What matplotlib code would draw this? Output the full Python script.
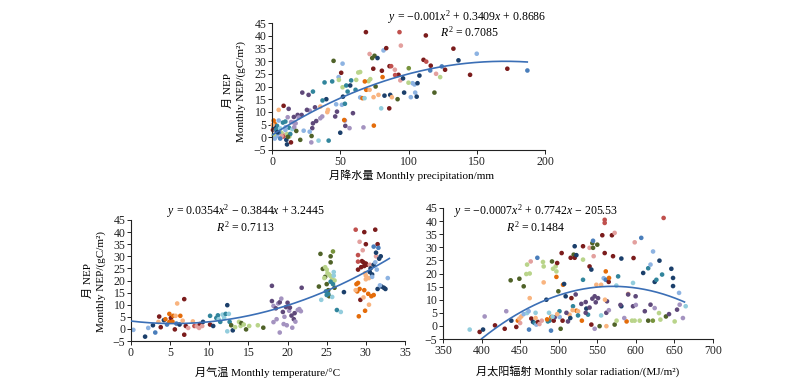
import matplotlib
matplotlib.use("Agg")
import matplotlib.pyplot as plt
import numpy as np

plt.rcParams['font.family'] = ['Liberation Serif', 'Noto Sans CJK SC', 'DejaVu Sans']
plt.rcParams['mathtext.fontset'] = 'custom'
plt.rcParams['mathtext.rm'] = 'Liberation Serif'
plt.rcParams['mathtext.it'] = 'Liberation Serif:italic'
plt.rcParams['axes.unicode_minus'] = True

# colour codes
palette = {
    'nv': '#1B3F6B', 'bl': '#4A7EBB', 'lb': '#8DB3E2',
    'dr': '#7B1C1C', 'rd': '#C0504D', 'pk': '#E3A09E',
    'or': '#E46C0A', 'lo': '#F9B47F',
    'dg': '#4F6228', 'gr': '#77933C', 'lg': '#B9D48A',
    'pu': '#5F497A', 'lp': '#A493C0',
    'te': '#31859C', 'lt': '#93CDDD',
}

# ---------------- Panel 1: precipitation ----------------
prec_x = [68.8, 93.4, 112.7, 81.7, 71.5, 75.1, 77.3, 73.4, 94.4, 83.7, 132.9, 150, 45.1, 51.7, 136.6, 111, 113,
          116.3, 124.4, 86.1, 87.3, 100.2, 90, 80.5, 74.2, 64.6, 63.2, 50.7, 126.8, 115.9, 172.4, 187.1, 145.1,
          123.2, 120.2, 108, 92.7, 94, 96, 90.2, 81, 70.7, 72, 75.9, 48.8, 49, 38.5, 44.1, 22.2, 30, 26.8, 51.7,
          54.4, 58, 55.4, 57.3, 61.7, 68, 69, 71.5, 61.2, 64.6, 66.3, 67.8, 74.4, 78, 82.4, 86.6, 87.8, 92, 96.8,
          103, 104.4, 101.7, 104.9, 106, 106.6, 119, 100, 80, 85.9, 74.6, 67, 56.8, 53.7, 53.4, 52.9, 50, 47.6,
          46.3, 47, 51.2, 53.4, 52, 39.8, 37, 35.4, 40.5, 41, 59.3, 36.8, 35.4, 32.4, 31.5, 27.6, 25.6, 30, 29.5,
          21.7, 18.8, 19.5, 27.6, 29, 28.8, 34.1, 41.5, 20.7, 23.2, 12.4, 11.5, 12.2, 8.5, 4.9, 4.9, 1.2, 2, 3.7,
          8, 9.8, 1.2, 0.7, 5.6, 7.6, 9, 8.3, 6.8, 11, 12.7, 9.8, 2.7, 3.7, 10.5, 11, 13.9, 13.4, 14.9, 16.3,
          15.9, 17.3, 17.8, 1.2, 0.5, 5.1, 3, 6, 7, 10, 4, 14, 16, 2, 6, 11.7]
prec_y = [41.4, 41.4, 40.1, 34.2, 32.8, 32.1, 31.2, 31.2, 36.1, 35.1, 34.9, 32.9, 30.1, 29.0, 30.3, 30.5, 29.8,
          28.2, 27.9, 28, 28, 27.2, 26.6, 26.2, 27, 25.7, 25.5, 25.4, 26.6, 26.3, 27, 26.3, 24.6, 23.7, 25, 24.3,
          24.6, 22.4, 23.2, 24.5, 23.7, 22.1, 22.9, 20, 23.7, 22.6, 21.6, 22, 17.6, 18, 16.7, 19.7, 20.4, 22.4,
          18, 20.4, 22.6, 22, 18.7, 18.7, 18.7, 15.7, 15.4, 15.4, 15.8, 16.7, 16.4, 16.7, 15.8, 15, 17.6, 21.3,
          20.8, 15.8, 17.6, 16, 21.3, 17.6, 21.5, 11.4, 11.4, 4.6, 3.9, 3.6, 4.5, 6.6, 6.8, 1.8, 10.1, 8.2, 13,
          12.8, 13.2, 16, 15, 14.5, 12.1, 9.9, 10.8, 9.5, 8.2, 7.5, 6.4, 11.8, 10.5, 10.8, 5.5, 3.6, 8.8, 8.8,
          7.8, 2.2, 0.5, -2, -1.3, -1.3, -1, 2.6, 3.8, 7.9, 11.2, 12.4, 10.8, 6.6, 6.6, 5.3, 4.5, 5.8, 6.2, 4.2,
          2.9, 2.2, 1.2, 0.9, 0.3, 1.8, 1.3, 0.3, 2.9, 2.5, 0.5, -1, -2.8, -2, 1.3, 3.2, 4, 5.8, 5.5, 2.5, 0.9,
          4.9, 1.8, 3, 3.5, 0.5, 4, 2, 6, 8, -0.5, -0.5, 0.2]
prec_c = ['dr', 'rd', 'dr', 'lb', 'pk', 'dg', 'nv', 'dg', 'pk', 'dr', 'dr', 'lb', 'dg', 'lb', 'nv', 'dr', 'rd',
          'dr', 'bl', 'dr', 'rd', 'gr', 'pk', 'dr', 'dr', 'lg', 'lg', 'dr', 'dr', 'bl', 'dr', 'bl', 'dr', 'lg',
          'pk', 'nv', 'dr', 'pk', 'nv', 'rd', 'or', 'lg', 'lg', 'dg', 'lb', 'lg', 'te', 'te', 'pu', 'te', 'pu',
          'lg', 'te', 'te', 'te', 'nv', 'lg', 'or', 'or', 'lo', 'te', 'lb', 'or', 'lt', 'lo', 'lo', 'nv', 'nv',
          'lo', 'dg', 'nv', 'lb', 'lb', 'lb', 'lb', 'nv', 'nv', 'dg', 'lg', 'lt', 'dr', 'or', 'lp', 'lp', 'pu',
          'lp', 'or', 'nv', 'pu', 'pu', 'lb', 'lb', 'te', 'nv', 'nv', 'te', 'lo', 'lo', 'lo', 'pu', 'lp', 'lp',
          'pu', 'pu', 'lp', 'pu', 'pu', 'pu', 'pu', 'pu', 'lp', 'lb', 'dg', 'lp', 'lt', 'te', 'dg', 'lb', 'te',
          'lp', 'pu', 'dr', 'lo', 'lb', 'or', 'or', 'te', 'te', 'te', 'nv', 'dr', 'lg', 'pk', 'pk', 'rd', 'lg',
          'lg', 'lg', 'lb', 'lp', 'lb', 'nv', 'nv', 'dr', 'te', 'lt', 'lp', 'lp', 'lp', 'dg', 'lg', 'lo', 'bl',
          'te', 'lt', 'pk', 'lb', 'nv', 'lp', 'pu', 'lb', 'bl', 'dg']

# ---------------- Panel 2: temperature ----------------
temp_x = [0.3, 1.8, 2.2, 2.8, 3.1, 3.5, 3.6, 3.8, 4.2, 4.4, 4.6, 4.9, 4.9, 5.1, 5.3, 5.4, 5.7, 5.9, 5.8, 5.6,
          6.2, 6.3, 6.6, 6.8, 6.8, 7.0, 7.3, 7.9, 8.1, 8.4, 8.8, 9.1, 9.2, 8.7, 10.1, 10.1, 10.5, 10.9, 11.1,
          11.2, 11.4, 11.7, 11.9, 12.1, 12.3, 12.5, 12.6, 12.3, 13.0, 12.8, 13.3, 13.8, 14.0, 14.1, 14.4, 14.7,
          15.1, 16.2, 16.9,
          18.0, 18.0, 18.2, 18.5, 18.8, 19.0, 19.2, 19.0, 18.2, 18.6, 19.4, 19.6, 19.8, 20.0, 20.2, 19.5, 20.5,
          20.8, 21.0, 20.9, 21.3, 21.5, 21.8, 21.7, 20.3, 19.9, 20.6,
          24.2, 24.0, 24.5, 25.0, 25.3, 25.5, 25.8, 25.5, 26.0, 24.8, 25.2,
          24.8, 25.0, 25.3, 25.5, 25.7, 26.0, 24.7, 25.1,
          25.5, 25.8, 24.9, 25.2, 25.7, 26.3, 27.2, 26.8, 24.3, 25.0, 25.9, 25.9,
          28.7, 29.8, 31.2, 29.2, 29.6, 29.0, 30.0, 31.5, 29.5, 29.7, 30.0, 29.8, 30.1, 29.4, 29.0, 29.0, 30.5,
          31.3, 29.3,
          28.8, 29.0, 29.2, 28.9, 29.1, 29.8, 30.3, 30.7, 31.0, 29.9,
          28.7, 30.0, 30.4, 30.4, 30.0, 29.7, 29.9,
          30.5, 30.8, 31.0, 31.3, 31.5, 32.0, 32.3, 32.5, 31.7, 31.9, 30.6,
          31.0, 31.6, 31.2, 32.8, 31.8, 31.4, 30.8]
temp_y = [-0.4, -3.2, 0.4, 1.5, -1.5, 2.9, 5.1, 0.7, 3.6, 4.0, 1.8, 2.9, 6.2, 4.5, 3.0, 5.4, 5.4, 10.5, 2.2, -0.2,
          1.8, 5.4, 3.4, 12.3, -2.4, 1.2, 0.4, 3.1, 1.2, 1.1, 2.0, 1.2, 2.9, 0.4, 1.8, 5.4, 1.2, 4.5, 5.6, 4.0,
          2.9, 5.9, 4.5, 6.2, 9.8, 6.2, 2.9, -1.0, -0.6, 1.5, 0.7, 2.9, 1.2, 2.4, 1.8, -0.2, 1.2, 1.5, 0.5,
          17.8, 11.5, 9.5, 8.5, 10.5, 11.0, 12.5, -1.5, 2.8, 4.0, 7.0, 5.0, 9.0, 10.8, 7.5, 2.0, 5.5, 4.0, 3.0,
          6.5, 7.8, 8.2, 17.0, 7.3, 8.8, 1.5, 0.5,
          31.0, 17.5, 24.8, 18.5, 13.5, 27.5, 32.0, 30.0, 17.0, 21.5, 16.0,
          25.5, 24.5, 22.5, 21.8, 20.5, 20.0, 21.0, 23.0,
          19.5, 18.5, 15.5, 14.5, 13.2, 7.8, 15.2, 7.0, 12.0, 14.0, 23.5, 22.0,
          41.0, 40.0, 41.0, 36.0, 32.5, 30.5, 35.0, 35.0, 28.0, 27.5, 27.0, 26.0, 26.5, 25.5, 24.5, 27.8, 26.5,
          30.0, 12.0,
          18.5, 19.0, 16.5, 15.5, 5.2, 16.0, 14.5, 13.5, 14.0, 7.5,
          16.0, 22.0, 21.0, 10.0, 20.5, 13.0, 23.0,
          23.5, 22.5, 26.5, 31.5, 16.5, 17.5, 17.0, 16.5, 29.0, 30.0, 25.0,
          34.0, 33.5, 27.5, 21.0, 18.0, 24.5, 21.5]
temp_c = ['lb', 'nv', 'lb', 'nv', 'bl', 'lo', 'dr', 'dr', 'nv', 'or', 'bl', 'or', 'or', 'dr', 'or', 'or', 'lo',
          'lo', 'bl', 'dr', 'nv', 'or', 'lo', 'dr', 'dr', 'dr', 'pk', 'lo', 'rd', 'pk', 'dr', 'pk', 'nv', 'pk',
          'dr', 'te', 'nv', 'te', 'te', 'lt', 'te', 'lt', 'lt', 'te', 'nv', 'lt', 'te', 'lt', 'nv', 'dg', 'lg',
          'lg', 'lg', 'dg', 'lg', 'dg', 'lg', 'lg', 'dg',
          'pu', 'pu', 'lp', 'pu', 'lp', 'pu', 'lp', 'lp', 'lp', 'lp', 'pu', 'lp', 'pu', 'pu', 'lp', 'lp', 'pu',
          'pu', 'lp', 'pu', 'lp', 'lp', 'pu', 'lp', 'pu', 'lp', 'lp',
          'dg', 'dg', 'dg', 'dg', 'dg', 'dg', 'gr', 'dg', 'dg', 'dg', 'dg',
          'lg', 'lg', 'lg', 'lg', 'lg', 'lg', 'lg', 'lg',
          'te', 'te', 'te', 'te', 'lt', 'te', 'nv', 'lt', 'lt', 'te', 'lt', 'lt',
          'rd', 'dr', 'dr', 'pk', 'pk', 'rd', 'dr', 'dr', 'dr', 'dr', 'dr', 'dr', 'dr', 'dr', 'dr', 'rd', 'pk',
          'pk', 'dr',
          'or', 'or', 'or', 'or', 'or', 'or', 'or', 'or', 'or', 'or',
          'lo', 'lo', 'lo', 'lo', 'lo', 'lo', 'lo',
          'nv', 'nv', 'nv', 'nv', 'nv', 'nv', 'nv', 'nv', 'nv', 'nv', 'nv',
          'bl', 'bl', 'lb', 'lb', 'lb', 'lb', 'lb']

# ---------------- Panel 3: solar radiation ----------------
rad_x = [384.6, 397.5, 401.9, 404, 417.4, 430, 432, 438.6, 437.7, 445, 447, 449, 450, 451.5, 454.6, 459, 461,
         449, 454.6, 458, 459, 463.7, 462.4, 462.4, 472.3, 461.5, 464.5, 466.7, 468.8, 471, 473, 475, 479.6,
         480.5, 480.5, 484, 486, 487.4, 488, 490, 490.4, 493.5, 494.8, 491.3, 492.6, 496, 497, 498, 497, 499.5,
         501.2, 501, 502.5, 503.8, 505.6, 507, 509, 512, 514, 516.5, 515.5, 519.4, 520.7, 520.7, 522.9, 522,
         518.5, 523, 525, 529.3, 531.5, 531.5, 531.5, 535, 535.8, 538, 540, 540, 542.3, 542.3, 543.6, 543.6,
         544.5, 544.5, 545.3, 546.6, 546.6, 548.8, 550, 551, 553, 555, 556.5, 558.3, 559.6, 559.6, 559.6, 561,
         561, 561.7, 562.6, 564.8, 565.2, 569, 570.4, 572.5, 572.5, 574.7, 577, 581.2, 581.2, 590, 596.3, 597,
         598.5, 596.3, 599.7, 607, 609.5, 611.6, 616, 616, 619, 622.3, 624.4, 626.6, 619, 624.4, 630, 630.6,
         631.8, 634, 636, 639, 643, 646, 648.2, 648.2, 650.3, 653.4, 656, 661, 664.6, 656.8, 561.8, 588, 598.4,
         605, 622,
         470, 478, 485, 492, 498, 505, 510, 515, 518, 525, 530, 535, 540, 548, 555, 560, 565, 575, 580, 585,
         590, 595, 600, 470]
rad_y = [-1.4, -2.3, -1.4, 3.6, 0.2, -1.1, 5.6, 2, 17.4, -0.4, 2, 2.8, 1.1, 3.6, 4.5, 4.9, 5.6, 18, 15.1, 19.8,
         23.4, 24.6, 20, 10.6, 26, -1.4, 2.8, 1.5, 1.1, 0.5, 1.5, 0.7, 24.4, 22.7, 16.6, 10, 1.7, 5, 2, -1.8,
         3.4, 2, 3.3, 24.6, 21.8, 22.7, 20.8, 24, 18.7, 13.2, 3.4, 5.6, -1.1, 27.8, 15.7, 16, 11.3, 1.7, 4.3,
         10.6, 26, 27.2, 26, 30.4, 27, 12, 7.5, 5.8, 5.6, 8.4, 17.6, 25.3, 30.4, 9.1, 6.6, 4.3, 29.8, 22.7,
         21.5, 0.5, 10.4, 31.6, 29.8, 32.5, 26.6, 11.3, -1.1, 15.7, 31, 10.6, -0.1, 15.7, 34.6, 18.2, 27.8,
         40.5, 39.3, 20.8, 17.6, 5, 9.4, 16.8, 18.3, 34.6, 26.6, 35.5, 0.5, 15.4, 18.9, 25.7, 7.5, 12.2, 16.4,
         25.9, 31.9, 7.5, 11.3, 33.6, 20.2, 5.6, 2, 22, 23.4, 28.4, 16.8, 17.6, 8.1, 6.8, 4.9, 24.9, 2.4, 19.6,
         41.2, 3.6, 4.5, 21.8, 18.3, 15.2, 1.7, 6.2, 12.6, 3, 7.5, 8.1, -0.1, 1.7, 2, 2, 2,
         3, 2, 2.5, 3.5, 4.5, 2, 5, 3, 6, 4, 2, 5, 7, 9, 4, 10, 6, 2, 8, 3, 12, 2, 8, 5]
rad_c = ['lt', 'dr', 'nv', 'lp', 'dr', 'dr', 'lp', 'nv', 'dg', 'dr', 'or', 'lo', 'pk', 'lo', 'lb', 'lt', 'lb',
         'dg', 'dg', 'lg', 'lg', 'pk', 'lg', 'lo', 'bl', 'bl', 'dr', 'nv', 'te', 'lb', 'dr', 'pk', 'lg', 'lg',
         'lo', 'nv', 'te', 'lt', 'te', 'bl', 'or', 'dr', 'pu', 'dg', 'lg', 'lg', 'lg', 'dr', 'or', 'dg', 'lb',
         'te', 'dg', 'dr', 'or', 'nv', 'nv', 'pu', 'lo', 'dr', 'dr', 'dg', 'dr', 'nv', 'nv', 'pu', 'te', 'or',
         'lo', 'pu', 'te', 'lg', 'dr', 'pu', 'nv', 'te', 'pk', 'dr', 'nv', 'dr', 'pu', 'dg', 'dg', 'bl', 'pk',
         'pu', 'lp', 'lo', 'dg', 'pu', 'dg', 'lo', 'dr', 'lb', 'dr', 'rd', 'rd', 'or', 'bl', 'pu', 'pu', 'dr',
         'or', 'dr', 'dr', 'pk', 'dg', 'lt', 'te', 'nv', 'nv', 'lo', 'lt', 'dr', 'pk', 'pu', 'pu', 'bl', 'nv',
         'pu', 'dg', 'te', 'lb', 'lb', 'nv', 'te', 'pu', 'lp', 'lg', 'nv', 'lg', 'te', 'rd', 'dg', 'pu', 'nv',
         'nv', 'nv', 'lg', 'pu', 'lb', 'lp', 'lt', 'lp', 'lo', 'or', 'lg', 'lg', 'gr',
         'lo', 'pk', 'or', 'lt', 'lo', 'dr', 'pu', 'nv', 'lo', 'te', 'or', 'pu', 'pu', 'pu', 'lt', 'lo', 'lp',
         'lg', 'pu', 'lp', 'pu', 'lg', 'lp', 'lt']

# fitted quadratic curves (coefficients a, b, c) and their x ranges
fit_prec = [-0.001, 0.3409, 0.8686]
fit_prec_range = [0, 187]
fit_temp = [0.0354, -0.3844, 3.2445]
fit_temp_range = [0, 33]
fit_rad = [-0.000692, 0.789, -209.8]
fit_rad_range = [400, 663]

eq_prec = [r'$y$ = $-$0.001$x^2$ + 0.3409$x$ + 0.8686', r'$R^2$ = 0.7085']
eq_temp = [r'$y$ = 0.0354$x^2$ $-$ 0.3844$x$ + 3.2445', r'$R^2$ = 0.7113']
eq_rad = [r'$y$ = $-$0.0007$x^2$ + 0.7742$x$ $-$ 205.53', r'$R^2$ = 0.1484']

xlabel_prec = '月降水量 Monthly precipitation/mm'
xlabel_temp = '月气温 Monthly temperature/°C'
xlabel_rad = '月太阳辐射 Monthly solar radiation/(MJ/m²)'
ylabel_lines = ['月 NEP', 'Monthly NEP/(gC/m²)']

FS = 8.5
W, H = 800, 390
fig = plt.figure(figsize=(8, 3.9), dpi=100)


def px(x0, y0, x1, y1):
    return [x0 / W, 1 - y1 / H, (x1 - x0) / W, (y1 - y0) / H]


def style(ax, xlim, xticks):
    ax.set_xlim(*xlim)
    ax.set_ylim(-5, 45)
    ax.set_xticks(xticks)
    ax.set_yticks(np.arange(-5, 46, 5))
    for s in ['top', 'right']:
        ax.spines[s].set_visible(False)
    for s in ['left', 'bottom']:
        ax.spines[s].set_linewidth(0.8)
        ax.spines[s].set_color('#222222')
    ax.tick_params(direction='out', length=3, width=0.7, labelsize=FS, pad=1, colors='#222222')
    ax.set_facecolor('none')


def draw(ax, xs, ys, cs, fit, rng):
    ax.scatter(xs, ys, c=[palette[k] for k in cs], s=11, linewidths=0, zorder=2, clip_on=False)
    xx = np.linspace(rng[0], rng[1], 200)
    yy = np.polyval(fit, xx)
    ax.plot(xx, yy, color='#3B6FB6', lw=1.2, zorder=3)


ax1 = fig.add_axes(px(272, 23, 545, 150))
style(ax1, (0, 200), np.arange(0, 201, 50))
draw(ax1, prec_x, prec_y, prec_c, fit_prec, fit_prec_range)

ax2 = fig.add_axes(px(131, 220, 405, 341))
style(ax2, (0, 35), np.arange(0, 36, 5))
draw(ax2, temp_x, temp_y, temp_c, fit_temp, fit_temp_range)

ax3 = fig.add_axes(px(443, 208, 713, 339))
style(ax3, (350, 700), np.arange(350, 701, 50))
draw(ax3, rad_x, rad_y, rad_c, fit_rad, fit_rad_range)


def ftext(x, y, s, fs=FS, **kw):
    fig.text(x / W, 1 - y / H, s, fontsize=fs, ha='center', va='center', **kw)


# equations
ftext(467, 17, eq_prec[0]); ftext(469, 32, eq_prec[1])
ftext(246, 211, eq_temp[0]); ftext(245, 227, eq_temp[1])
ftext(536, 211, eq_rad[0]); ftext(536, 227, eq_rad[1])

# x labels
ftext(411, 175, xlabel_prec, fs=8)
ftext(268, 372, xlabel_temp, fs=8)
ftext(578, 371, xlabel_rad, fs=8)

# y labels
ftext(228, 90, ylabel_lines[0], fs=8, rotation=90)
ftext(241, 92, ylabel_lines[1], fs=8, rotation=90)
ftext(88, 280, ylabel_lines[0], fs=8, rotation=90)
ftext(101, 281, ylabel_lines[1], fs=8, rotation=90)

fig.savefig('out.png', dpi=100)
